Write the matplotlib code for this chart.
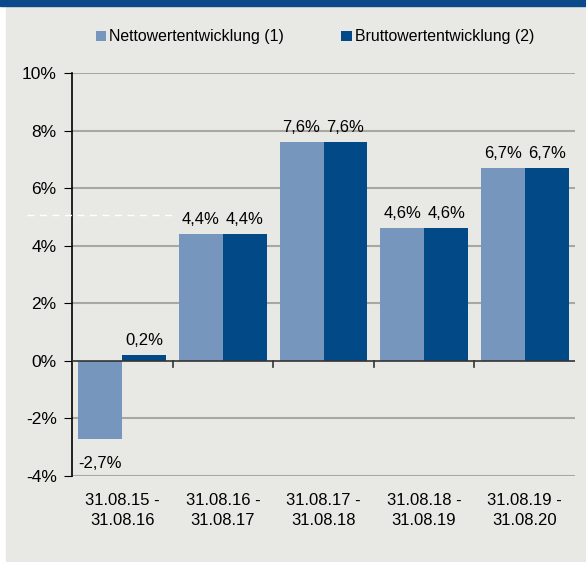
import matplotlib.pyplot as plt
import numpy as np
from matplotlib.lines import Line2D
from matplotlib.patches import Rectangle

plt.rcParams['font.family'] = ['Liberation Sans', 'DejaVu Sans']

categories = ['31.08.15 -\n31.08.16', '31.08.16 -\n31.08.17', '31.08.17 -\n31.08.18',
              '31.08.18 -\n31.08.19', '31.08.19 -\n31.08.20']
netto = [-2.7, 4.4, 7.6, 4.6, 6.7]
brutto = [0.2, 4.4, 7.6, 4.6, 6.7]
series_names = ['Nettowertentwicklung (1)', 'Bruttowertentwicklung (2)']

light = '#7796bd'
dark = '#024a87'
bg = '#e8e8e4'

fig = plt.figure(figsize=(5.86, 5.62), dpi=100, facecolor='white')
fig.add_artist(Rectangle((6/586, 0), 1, 1, transform=fig.transFigure, color=bg, zorder=-10))
fig.add_artist(Rectangle((0, 1 - 6/562), 1, 6/562, transform=fig.transFigure, color='#0a4a8a', zorder=-5))

ax = fig.add_axes([72/586, 1 - 476/562, (575-72)/586, (476-73)/562])
ax.set_facecolor(bg)

x = np.arange(len(categories))
w = 0.437
b1 = ax.bar(x - w/2, netto, w, color=light, label=series_names[0], zorder=3)
b2 = ax.bar(x + w/2, brutto, w, color=dark, label=series_names[1], zorder=3)

for bars, vals in ((b1, netto), (b2, brutto)):
    for r, v in zip(bars, vals):
        txt = f'{v:.1f}%'.replace('.', ',')
        cx = r.get_x() + r.get_width()/2
        if v >= 0:
            ax.text(cx, v + 0.25, txt, ha='center', va='bottom', fontsize=12, zorder=4)
        else:
            ax.text(cx, v - 0.6, txt, ha='center', va='top', fontsize=12, zorder=4)

ax.set_xlim(-0.5, len(categories) - 0.5)
ax.set_ylim(-4, 10)
yt = np.arange(-4, 11, 2)
ax.set_yticks(yt)
ax.set_yticklabels([f'{t}%' for t in yt], fontsize=12.5)
ax.tick_params(axis='y', length=6, direction='out', pad=5, color='black')
ax.set_xticks(x)
ax.set_xticklabels(categories, fontsize=12, linespacing=1.45)
ax.tick_params(axis='x', length=0, pad=12)

for t in yt:
    if t != 0:
        ax.axhline(t, color='#a8a8a0', lw=1.5, zorder=1)
ax.axhline(0, color='#333333', lw=1.2, zorder=4)
for b in np.arange(0.5, len(categories) - 0.5, 1):
    ax.plot([b, b], [0, -0.2], color='#333333', lw=1.2, zorder=4, clip_on=False)

for s in ['top', 'right', 'bottom']:
    ax.spines[s].set_visible(False)
ax.spines['left'].set_color('black')
ax.spines['left'].set_linewidth(1.2)

fig.add_artist(Line2D([27/586, 175/586], [1 - 214.5/562, 1 - 214.5/562], transform=fig.transFigure,
                      color='white', lw=1, ls=(0, (5, 4)), zorder=5))

ax.legend(loc='center', bbox_to_anchor=(315/586, 1 - 37/562), bbox_transform=fig.transFigure,
          ncol=2, frameon=False, fontsize=11.4, handlelength=0.65, handleheight=0.65,
          handletextpad=0.2, columnspacing=3.6, borderpad=0)

fig.savefig('out.png', dpi=100, facecolor='white')
